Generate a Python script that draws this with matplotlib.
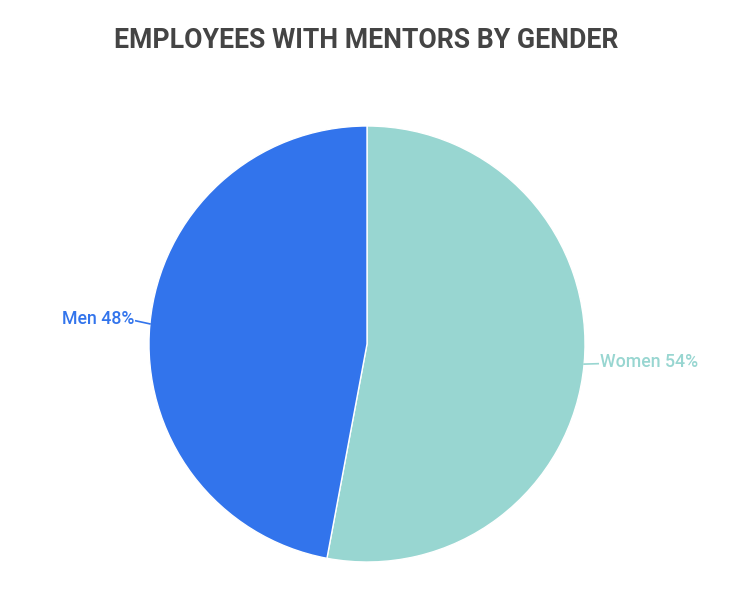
import numpy as np
import matplotlib
matplotlib.use("Agg")
import matplotlib.pyplot as plt

categories = ["Women", "Men"]
values = [54, 48]
colors = ["#98D6D1", "#3274EC"]
title = "EMPLOYEES WITH MENTORS BY GENDER"

plt.rcParams['font.family'] = ['Roboto', 'DejaVu Sans']

fig = plt.figure(figsize=(7.30, 6.13), dpi=100)
cx, cy, r = 367, 344, 218
W, H = 730, 613
ax = fig.add_axes([(cx - r) / W, (H - cy - r) / H, 2 * r / W, 2 * r / H])
wedges, _ = ax.pie(values, colors=colors, startangle=90, counterclock=False,
                   radius=1, wedgeprops=dict(edgecolor="white", linewidth=1))
ax.set_xlim(-1, 1)
ax.set_ylim(-1, 1)
ax.set_aspect('equal')
ax.axis('off')

for w, cat, val, col in zip(wedges, categories, values, colors):
    ang = np.deg2rad((w.theta1 + w.theta2) / 2)
    x0, y0 = np.cos(ang), np.sin(ang)
    x1, y1 = 1.065 * x0, 1.065 * y0 + 0.008
    ax.plot([x0, x1], [y0, y1], color=col, lw=1.2, clip_on=False)
    ha = 'left' if x0 > 0 else 'right'
    dx = 0.01 if x0 > 0 else -0.005
    ax.text(x1 + dx, y1 - 0.015, f"{cat} {val}%", color=col, fontsize=12.8,
            fontweight='medium', ha=ha, va='baseline', clip_on=False)

fig.text(0.5014, 1 - 40 / 613, title, ha='center', va='center',
         fontsize=19.2, fontweight='bold', color='#444444')

fig.savefig("out.png", dpi=100, facecolor='white')
